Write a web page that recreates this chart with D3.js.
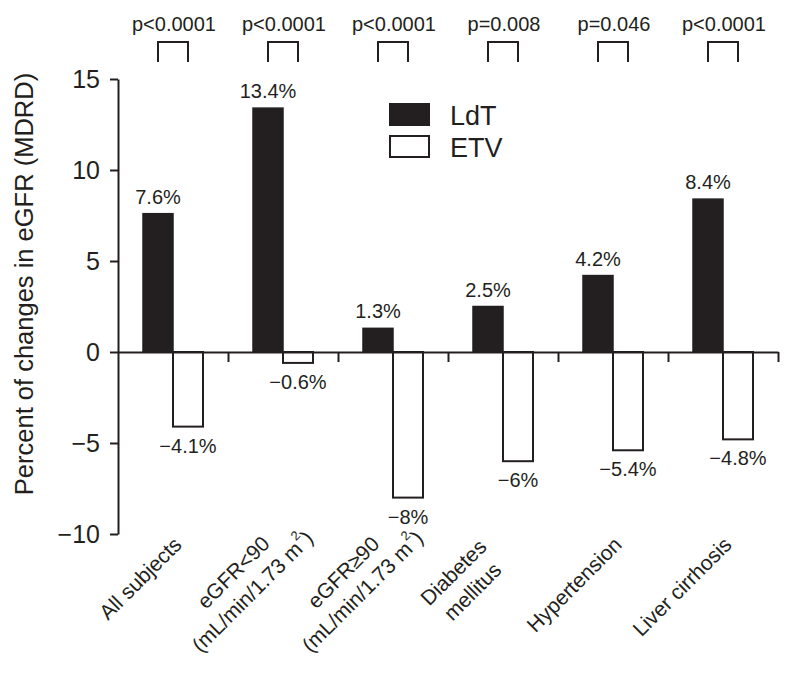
<!DOCTYPE html>
<html>
<head>
<meta charset="utf-8">
<script src="https://cdn.jsdelivr.net/npm/d3@7"></script>
<style>
  body { margin: 0; background: #fff; }
  text { font-family: "Liberation Sans", Arial, sans-serif; fill: #231f20; }
</style>
</head>
<body>
<svg id="chart" width="794" height="673"></svg>
<script>
"use strict";

// Data
const categories = ["All subjects", "eGFR<90", "eGFR≥90", "Diabetes mellitus", "Hypertension", "Liver cirrhosis"];
const xLabelLines = [
  ["All subjects"],
  ["eGFR<90", "(mL/min/1.73 m²)"],
  ["eGFR≥90", "(mL/min/1.73 m²)"],
  ["Diabetes", "mellitus"],
  ["Hypertension"],
  ["Liver cirrhosis"]
];
const series = ["LdT", "ETV"];
const ldtValues = [7.6, 13.4, 1.3, 2.5, 4.2, 8.4];
const etvValues = [-4.1, -0.6, -8, -6, -5.4, -4.8];
const ldtLabels = ["7.6%", "13.4%", "1.3%", "2.5%", "4.2%", "8.4%"];
const etvLabels = ["−4.1%", "−0.6%", "−8%", "−6%", "−5.4%", "−4.8%"];
const pValues = ["p<0.0001", "p<0.0001", "p<0.0001", "p=0.008", "p=0.046", "p<0.0001"];
const yTicks = [-10, -5, 0, 5, 10, 15];
const yTitle = "Percent of changes in eGFR (MDRD)";

const ink = "#231f20";

var graph = {};
graph.svg = d3.select("#chart");
graph.plot = { left: 118, right: 778, top: 79, bottom: 534 };

var x = d3.scaleBand()
  .domain(categories)
  .range([graph.plot.left, graph.plot.right])
  .paddingInner(0)
  .paddingOuter(0);

var xSub = d3.scaleBand()
  .domain(series)
  .range([x.bandwidth() / 2 - 30, x.bandwidth() / 2 + 30]);

var y = d3.scaleLinear()
  .domain([-10, 15])
  .range([graph.plot.bottom, graph.plot.top]);

// boundaries between categories carry the x ticks
var xEdge = d3.scaleLinear()
  .domain([0, categories.length])
  .range([graph.plot.left, graph.plot.right]);

var rows = categories.map((c, i) => ({
  cat: c,
  ldt: ldtValues[i],
  etv: etvValues[i],
  ldtLabel: ldtLabels[i],
  etvLabel: etvLabels[i],
  p: pValues[i],
  lines: xLabelLines[i]
}));

// Bars
var bars = graph.svg.append("g").attr("id", "bars");

bars.selectAll("rect.ldt")
  .data(rows)
  .enter()
  .append("rect")
  .attr("class", "ldt")
  .attr("x", d => x(d.cat) + xSub("LdT"))
  .attr("width", xSub.bandwidth())
  .attr("y", d => y(Math.max(0, d.ldt)))
  .attr("height", d => Math.abs(y(d.ldt) - y(0)))
  .attr("fill", ink)
  .attr("stroke", ink)
  .attr("stroke-width", 1.5);

bars.selectAll("rect.etv")
  .data(rows)
  .enter()
  .append("rect")
  .attr("class", "etv")
  .attr("x", d => x(d.cat) + xSub("ETV"))
  .attr("width", xSub.bandwidth())
  .attr("y", d => y(Math.max(0, d.etv)))
  .attr("height", d => Math.abs(y(d.etv) - y(0)))
  .attr("fill", "#fff")
  .attr("stroke", ink)
  .attr("stroke-width", 2);

// Value labels
bars.selectAll("text.ldt")
  .data(rows)
  .enter()
  .append("text")
  .attr("x", d => x(d.cat) + xSub("LdT") + xSub.bandwidth() / 2)
  .attr("y", d => y(d.ldt) - 10)
  .attr("text-anchor", "middle")
  .attr("font-size", 20)
  .text(d => d.ldtLabel);

bars.selectAll("text.etv")
  .data(rows)
  .enter()
  .append("text")
  .attr("x", d => x(d.cat) + xSub("ETV") + xSub.bandwidth() / 2)
  .attr("y", d => y(d.etv) + 26)
  .attr("text-anchor", "middle")
  .attr("font-size", 20)
  .text(d => d.etvLabel);

// Axes
var yAxis = d3.axisLeft(y)
  .tickValues(yTicks)
  .tickSize(8)
  .tickSizeOuter(0)
  .tickPadding(10);

var gY = graph.svg.append("g")
  .attr("transform", "translate(" + graph.plot.left + ",0)")
  .call(yAxis);

var xAxis = d3.axisBottom(xEdge)
  .tickValues(d3.range(1, categories.length + 1))
  .tickSize(10)
  .tickSizeOuter(0)
  .tickFormat("");

var gX = graph.svg.append("g")
  .attr("transform", "translate(0," + y(0) + ")")
  .call(xAxis);

[gX, gY].forEach(g => {
  g.selectAll("path, line").attr("stroke", ink).attr("stroke-width", 2);
});
gY.selectAll("text")
  .attr("font-size", 25)
  .attr("font-family", "'Liberation Sans', Arial, sans-serif")
  .attr("fill", ink);

// Y title
graph.svg.append("text")
  .attr("transform", "translate(33,284) rotate(-90)")
  .attr("text-anchor", "middle")
  .attr("font-size", 25.5)
  .text(yTitle);

// Rotated category labels (single lines end-anchored, two lines centred)
var xl = graph.svg.append("g").attr("id", "x-labels");

rows.forEach(d => {
  var c = x(d.cat) + x.bandwidth() / 2;
  var t;
  if (d.lines.length === 1) {
    t = xl.append("text")
      .attr("transform", "translate(" + (c + 10) + ",546) rotate(-45)")
      .attr("text-anchor", "end")
      .attr("font-size", 21);
  } else {
    t = xl.append("text")
      .attr("transform", "translate(" + (c - 44.5) + ",577.5) rotate(-45)")
      .attr("text-anchor", "middle")
      .attr("font-size", 21);
  }
  d.lines.forEach((line, li) => {
    var parts = line.split("²");
    var ts = t.append("tspan")
      .attr("x", 0)
      .attr("dy", li === 0 ? 0 : 27)
      .text(parts[0]);
    if (parts.length > 1) {
      // superscript 2 after the m
      ts.append("tspan")
        .attr("dx", 1)
        .attr("dy", -12)
        .attr("font-size", 13)
        .text("2");
      ts.append("tspan")
        .attr("dy", 12)
        .text(parts[1]);
    }
  });
});

// p-values and brackets
var pg = graph.svg.append("g").attr("id", "p-values");

pg.selectAll("text")
  .data(rows)
  .enter()
  .append("text")
  .attr("x", d => x(d.cat) + x.bandwidth() / 2 + 1)
  .attr("y", 31)
  .attr("text-anchor", "middle")
  .attr("font-size", 20)
  .text(d => d.p);

pg.selectAll("path")
  .data(rows)
  .enter()
  .append("path")
  .attr("d", d => {
    var x0 = x(d.cat) + xSub("LdT") + xSub.bandwidth() / 2,
      x1 = x(d.cat) + xSub("ETV") + xSub.bandwidth() / 2;
    return "M" + x0 + ",62V42H" + x1 + "V62";
  })
  .attr("fill", "none")
  .attr("stroke", ink)
  .attr("stroke-width", 2);

// Legend
var legend = graph.svg.append("g").attr("id", "legend");

legend.selectAll("rect")
  .data(series)
  .enter()
  .append("rect")
  .attr("x", 390)
  .attr("y", (d, i) => 104 + i * 32)
  .attr("width", 39)
  .attr("height", 21)
  .attr("fill", (d, i) => i === 0 ? ink : "#fff")
  .attr("stroke", ink)
  .attr("stroke-width", 2);

legend.selectAll("text")
  .data(series)
  .enter()
  .append("text")
  .attr("x", 450)
  .attr("y", (d, i) => 125 + i * 32)
  .attr("font-size", 27)
  .text(d => d);
</script>
</body>
</html>
